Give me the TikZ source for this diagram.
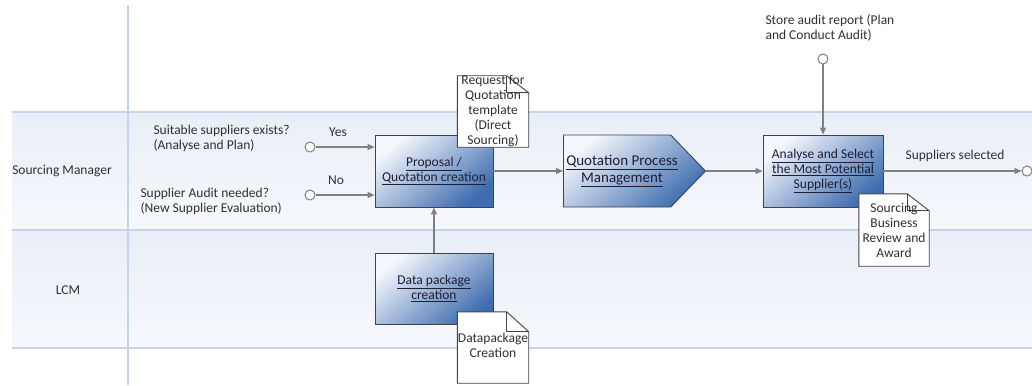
\documentclass[tikz,border=0pt]{standalone}
\usepackage{fontspec}
\setmainfont{Carlito}
\usetikzlibrary{arrows.meta,shapes.symbols}
\definecolor{laneline}{HTML}{C4D4EA}
\definecolor{lanetop}{HTML}{E9EFF7}
\definecolor{lanebot}{HTML}{F6F8FC}
\definecolor{flow}{HTML}{808080}
\definecolor{boxedge}{HTML}{404448}
\definecolor{boxlight}{HTML}{F4F7FC}
\definecolor{boxdark}{HTML}{3F6DAF}
\definecolor{labeltext}{HTML}{303030}
\definecolor{tasktext}{HTML}{1E1E36}
\begin{document}
\begin{tikzpicture}[x=1pt,y=-1pt,
  every node/.style={font=\fontsize{13.5}{15}\selectfont, text=labeltext},
  lanefill/.style={top color=lanetop, bottom color=lanebot, draw=none},
  laneedge/.style={draw=laneline, line width=1.2pt},
  task/.style={draw=boxedge, line width=0.9pt, top color=boxlight, bottom color=boxdark,
    shading angle=40, minimum width=118pt, minimum height=72pt, inner sep=1pt,
    align=center, text=tasktext},
  subproc/.style={task, shape=signal, signal to=east, signal from=nowhere,
    signal pointer angle=92, minimum width=142pt, inner sep=0pt},
  docbox/.style={minimum width=71pt, minimum height=71pt, inner sep=0pt},
  docedge/.style={draw=boxedge, line width=0.9pt, fill=white},
  doctext/.style={align=center, inner sep=0pt, text=labeltext},
  event/.style={circle, draw=flow, line width=1pt, fill=white, minimum size=10pt, inner sep=0pt},
  flowline/.style={draw=flow, line width=1.1pt, -{Triangle[length=7pt,width=6pt]}}
]
\useasboundingbox (0,0) rectangle (1032,385);
\fill[white] (0,0) rectangle (1032,385);

% swimlanes
\fill[lanefill] (12,112) rectangle (1032,230);
\fill[lanefill] (12,230) rectangle (1032,348);
\draw[laneedge] (12,112) -- (1032,112);
\draw[laneedge] (12,230) -- (1032,230);
\draw[laneedge] (12,348) -- (1032,348);
\draw[laneedge] (128,5) -- (128,385);
\node (laneSM) at (62,171) {Sourcing Manager};
\node (laneLCM) at (68,290) {LCM};

% start events and their conditions
\node[event] (startYes) at (310,147) {};
\node[event] (startNo) at (310,195) {};
\node[align=left, anchor=west] (condYes) at (150,138) {Suitable suppliers exists?\\(Analyse and Plan)};
\node[align=left, anchor=west] (condNo) at (137,201) {Supplier Audit needed?\\(New Supplier Evaluation)};
\node (lblYes) at (338,132) {Yes};
\node (lblNo) at (336,180) {No};

% tasks
\node[task] (prop) at (434,171) {\underline{Proposal /}\\\underline{Quotation creation}};
\node[task, minimum height=71pt] (dpkg) at (434,288.5) {\underline{Data package}\\\underline{creation}};
\node[subproc, anchor=west] (qpm) at (563,171) {};
\node[align=center, text=tasktext, inner sep=0pt, font=\fontsize{15}{16.5}\selectfont] (qpmt) at (622,171) {\underline{Quotation Process}\\\underline{Management}};
\node[task, minimum width=120pt] (ana) at (823,171) {\underline{Analyse and Select}\\\underline{the Most Potential}\\\underline{Supplier(s)}};

% documents
\node[docbox] (rfq) at (493,111.5) {};
\draw[docedge] (rfq.north west) -- ([xshift=-22pt]rfq.north east) -- ([yshift=-17pt]rfq.north east)
  -- (rfq.south east) -- (rfq.south west) -- cycle;
\draw[docedge, fill=none] ([xshift=-22pt]rfq.north east) -- ([xshift=-22pt,yshift=-17pt]rfq.north east) -- ([yshift=-17pt]rfq.north east);
\node[doctext] (rfqt) at (rfq.center) {Request for\\Quotation\\template\\(Direct\\Sourcing)};

\node[docbox] (dpd) at (493,347.5) {};
\draw[docedge] (dpd.north west) -- ([xshift=-22pt]dpd.north east) -- ([yshift=-20pt]dpd.north east)
  -- (dpd.south east) -- (dpd.south west) -- cycle;
\draw[docedge, fill=none] ([xshift=-22pt]dpd.north east) -- ([xshift=-22pt,yshift=-20pt]dpd.north east) -- ([yshift=-20pt]dpd.north east);
\node[doctext] (dpdt) at ([yshift=2pt]dpd.center) {Datapackage\\Creation};

\node[docbox, minimum width=70pt, minimum height=72pt] (sbr) at (894,230) {};
\draw[docedge] (sbr.north west) -- ([xshift=-22pt]sbr.north east) -- ([yshift=-17pt]sbr.north east)
  -- (sbr.south east) -- (sbr.south west) -- cycle;
\draw[docedge, fill=none] ([xshift=-22pt]sbr.north east) -- ([xshift=-22pt,yshift=-17pt]sbr.north east) -- ([yshift=-17pt]sbr.north east);
\node[doctext] (sbrt) at (sbr.center) {Sourcing\\Business\\Review and\\Award};

% audit report event and end event
\node[event] (audit) at (823,59) {};
\node[align=left, anchor=west] (auditlbl) at (762,28) {Store audit report (Plan\\and Conduct Audit)};
\node[event] (finish) at (1027,171) {};
\node (lblDone) at (955,156) {Suppliers selected};

% sequence flows
\draw[flowline] (startYes) -- (startYes -| prop.west);
\draw[flowline] (startNo) -- (startNo -| prop.west);
\draw[flowline] (dpkg.north) -- (prop.south);
\draw[flowline] (prop.east) -- (qpm.west);
\draw[flowline] (qpm.east) -- (ana.west);
\draw[flowline] (audit) -- (ana.north);
\draw[flowline] (ana.east) -- (finish);
\end{tikzpicture}
\end{document}
